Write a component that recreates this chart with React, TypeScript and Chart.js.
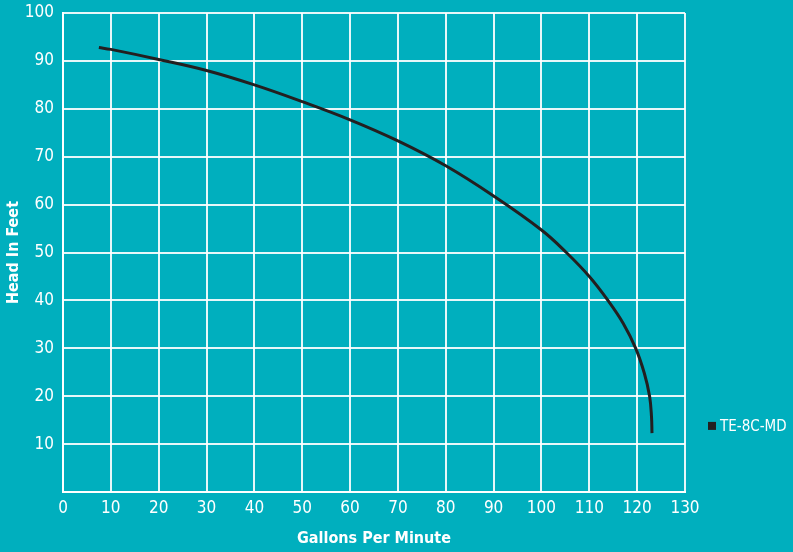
import React, { useEffect, useRef } from "react";
import { Chart, registerables } from "chart.js";

Chart.register(...registerables);

const seriesLabel = "TE-8C-MD";
const gpm = [7.5, 10, 20, 30, 40, 50, 60, 70, 80, 90, 100, 105.2, 110, 113.9, 117.1, 119.7, 121.5, 122.6, 123.0, 123.1];
const headFeet = [92.8, 92.4, 90.3, 88.0, 85.0, 81.5, 77.7, 73.3, 68.1, 61.8, 54.7, 50, 45, 40, 35.2, 30, 24.8, 20, 15.7, 12.3];
const xTitle = "Gallons Per Minute";
const yTitle = "Head In Feet";

const BG = "#00AFBE";
const FONT = "'Liberation Sans Narrow', 'DejaVu Sans Condensed', 'Roboto', sans-serif";

export default function App() {
  const ref = useRef<HTMLCanvasElement>(null);

  useEffect(() => {
    document.body.style.margin = "0";
    document.body.style.background = BG;
    const legendPlugin = {
      id: "customLegend",
      afterDraw(chart: any) {
        const ctx = chart.ctx;
        const area = chart.chartArea;
        const ys = chart.scales.y;
        const cy = ys.getPixelForValue(13.8);
        const x0 = area.right + 23;
        ctx.save();
        ctx.fillStyle = "#231f20";
        ctx.fillRect(x0, cy - 4, 8, 8);
        ctx.fillStyle = "#ffffff";
        ctx.font = `15px ${FONT}`;
        ctx.textBaseline = "middle";
        ctx.textAlign = "left";
        ctx.fillText(chart.data.datasets[0].label, x0 + 12, cy + 1);
        ctx.restore();
      },
    };
    const chart = new Chart(ref.current!, {
      type: "line",
      data: {
        datasets: [
          {
            label: seriesLabel,
            data: gpm.map((x, i) => ({ x, y: headFeet[i] })),
            borderColor: "#231f20",
            borderWidth: 3,
            pointRadius: 0,
            tension: 0.4,
            fill: false,
          },
        ],
      },
      options: {
        animation: false,
        responsive: false,
        layout: { padding: { left: 0, top: 13, right: 108, bottom: 0 } },
        plugins: { legend: { display: false }, tooltip: { enabled: false } },
        scales: {
          x: {
            type: "linear",
            min: 0,
            max: 130,
            ticks: { stepSize: 10, color: "#ffffff", font: { family: FONT, size: 17 }, padding: 6 },
            grid: { color: "rgba(255,255,255,0.9)", lineWidth: 2, drawTicks: false },
            border: { color: "#ffffff", width: 2 },
            title: {
              display: true,
              text: xTitle,
              color: "#ffffff",
              font: { family: FONT, size: 16, weight: "bold" },
              padding: { top: 8 },
            },
            afterFit(scale: any) {
              scale.height = 60;
              scale.paddingLeft = 0;
              scale.paddingRight = 0;
            },
          },
          y: {
            min: 0,
            max: 100,
            ticks: {
              stepSize: 10,
              color: "#ffffff",
              font: { family: FONT, size: 17 },
              padding: 9,
              callback: (v: any) => (v === 0 ? "" : String(v)),
            },
            grid: { color: "rgba(255,255,255,0.9)", lineWidth: 2, drawTicks: false },
            border: { color: "#ffffff", width: 2 },
            title: {
              display: true,
              text: yTitle,
              color: "#ffffff",
              font: { family: FONT, size: 16, weight: "bold" },
              padding: { bottom: 0 },
            },
            afterFit(scale: any) {
              scale.width = 63;
              scale.paddingTop = 0;
              scale.paddingBottom = 0;
            },
          },
        },
      },
      plugins: [legendPlugin],
    } as any);
    return () => chart.destroy();
  }, []);

  return (
    <div style={{ width: 793, height: 552, background: BG }}>
      <canvas ref={ref} width={793} height={552} style={{ display: "block" }} />
    </div>
  );
}
